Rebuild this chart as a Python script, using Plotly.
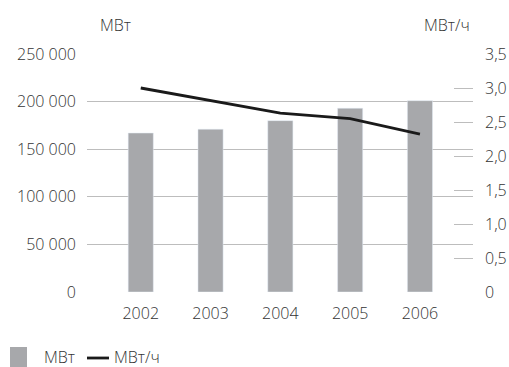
import plotly.graph_objects as go

years = ["2002", "2003", "2004", "2005", "2006"]
capacity_mw = [167000, 171000, 180000, 193000, 201000]
rate_mw_h = [3.0, 2.82, 2.63, 2.55, 2.32]

left_ticks = [0, 50000, 100000, 150000, 200000, 250000]
left_tick_text = ["0", "50 000", "100 000", "150 000", "200 000", "250 000"]
right_ticks = [0, 0.5, 1.0, 1.5, 2.0, 2.5, 3.0, 3.5]
right_tick_text = ["0", "0,5", "1,0", "1,5", "2,0", "2,5", "3,0", "3,5"]

BAR = "#a7a8ab"
LINE = "#1a1a1a"
TEXT = "#333333"
GRID = "#bdbdbd"
FONT = "Open Sans"

W, H = 509, 367
ML, MR, MT, MB = 87, 36, 54, 75
PW, PH = W - ML - MR, H - MT - MB


def px(x):
    return (x - ML) / PW


def py(y):
    return (H - MB - y) / PH


fig = go.Figure()
fig.add_trace(go.Bar(
    x=years, y=capacity_mw, name="МВт", marker_color=BAR,
    width=0.36, showlegend=False, yaxis="y",
))
fig.add_trace(go.Scatter(
    x=years, y=rate_mw_h, name="МВт/ч", mode="lines",
    line=dict(color=LINE, width=2.8), showlegend=False, yaxis="y2",
))

fig.update_layout(
    width=W, height=H,
    margin=dict(l=ML, r=MR, t=MT, b=MB, autoexpand=False),
    paper_bgcolor="white", plot_bgcolor="white",
    font=dict(family=FONT, size=16, color=TEXT, weight=300),
    xaxis=dict(
        type="category", range=[-0.77, 4.76], showgrid=False, automargin=False,
        showline=False, ticks="", ticklabelstandoff=10,
        tickfont=dict(size=16, color=TEXT, weight=300),
    ),
    yaxis=dict(
        range=[0, 250000], tickvals=left_ticks, ticktext=left_tick_text,
        showgrid=True, gridcolor=GRID, gridwidth=1.2, zeroline=False,
        showline=False, ticks="", ticklabelstandoff=10, automargin=False,
    ),
    yaxis2=dict(
        range=[0, 3.5], tickvals=right_ticks, ticktext=right_tick_text,
        overlaying="y", side="right", showgrid=False, zeroline=False,
        showline=False, ticks="inside", ticklen=19, tickwidth=1.2,
        tickcolor=GRID, ticklabelstandoff=11, automargin=False,
    ),
    bargap=0.5,
)

# axis unit captions
fig.add_annotation(text="МВт", x=px(98), y=py(25), xref="paper", yref="paper",
                   xanchor="left", yanchor="middle", showarrow=False)
fig.add_annotation(text="МВт/ч", x=px(472), y=py(25), xref="paper", yref="paper",
                   xanchor="right", yanchor="middle", showarrow=False)

# legend drawn at the bottom left
fig.add_shape(type="rect", xref="paper", yref="paper",
              x0=px(10), x1=px(27), y0=py(367), y1=py(347),
              fillcolor=BAR, line=dict(width=0))
fig.add_annotation(text="МВт", x=px(42), y=py(357), xref="paper", yref="paper",
                   xanchor="left", yanchor="middle", showarrow=False)
fig.add_shape(type="line", xref="paper", yref="paper",
              x0=px(87), x1=px(109), y0=py(358), y1=py(358),
              line=dict(color=LINE, width=2.8))
fig.add_annotation(text="МВт/ч", x=px(112), y=py(357), xref="paper", yref="paper",
                   xanchor="left", yanchor="middle", showarrow=False)

fig.write_html("out.html")
